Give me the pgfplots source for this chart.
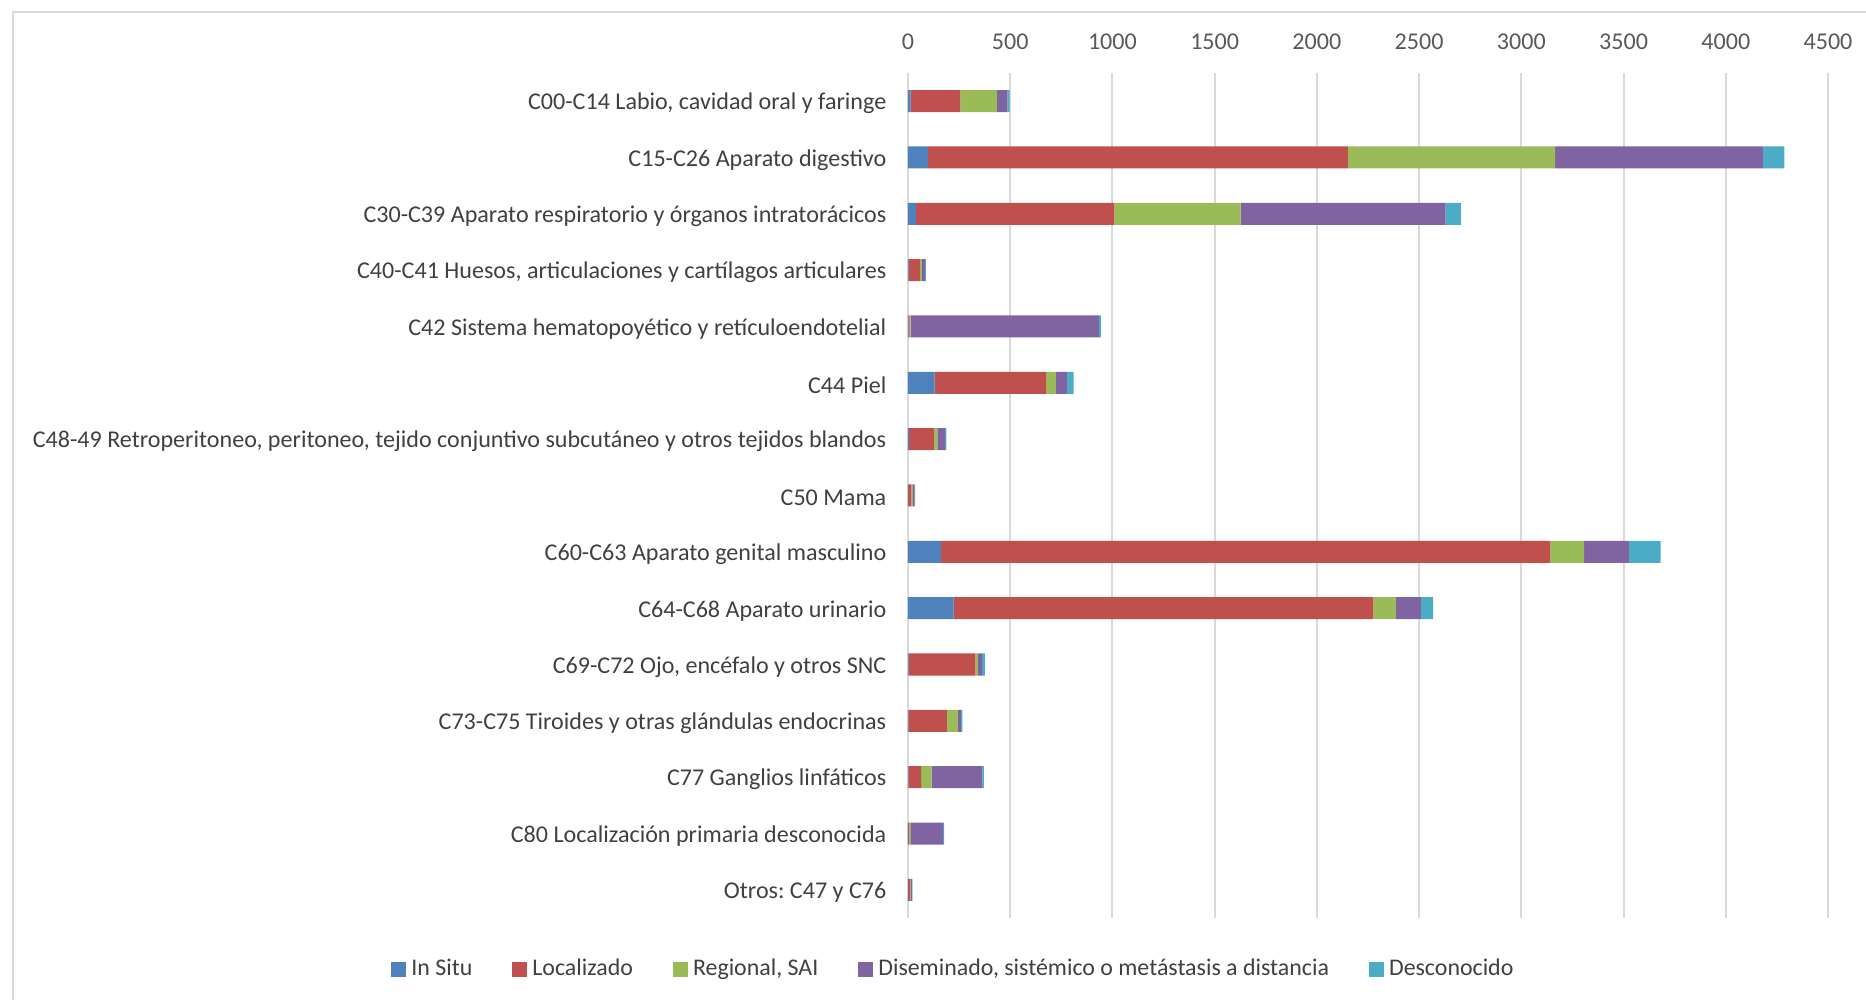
\documentclass[border=0pt]{standalone}
\usepackage{fontspec}
\setmainfont{Carlito}
\usepackage{pgfplots}
\usepackage{pgfplotstable}
\pgfplotsset{compat=1.18}
\definecolor{cinsitu}{HTML}{4F81BD}
\definecolor{cloc}{HTML}{C0504D}
\definecolor{creg}{HTML}{9BBB59}
\definecolor{cdis}{HTML}{8064A2}
\definecolor{cdesc}{HTML}{4BACC6}
\definecolor{cgrid}{HTML}{D9D9D9}
\definecolor{ctext}{HTML}{404040}
\definecolor{ctick}{HTML}{595959}

% idx, in situ, localizado, regional, diseminado, desconocido
\pgfplotstableread{
idx insitu loc reg dis desc
0  13  243  179   51  11
1  98  2054 1013 1016 105
2  39  970  618  1003  74
3  3   55   10   16    4
4  2   6    5    921  10
5  130 546  47   54   33
6  5   121  18   37    7
7  1   16   7    8     3
8  161 2981 165  219 155
9  223 2053 110  122  61
10 3   326  13   21   13
11 2   188  54   15    7
12 2   62   52   248   7
13 1   3    8    160   5
14 1   10   2    7     2
}\datatable

\begin{document}
\frenchspacing
\begin{tikzpicture}
\fontsize{6.85pt}{8pt}\selectfont
\path[use as bounding box] (-90.8mm,-8.2mm) rectangle (95.8mm,91.8mm);
\draw[cgrid, line width=0.2mm] (-89.5mm,-8.2mm) -- (-89.5mm,90.6mm) -- (95.8mm,90.6mm);
\begin{axis}[
    scale only axis,
    width=92mm, height=84.5mm,
    xbar stacked,
    bar width=2.2mm,
    xmin=0, xmax=4500,
    ymin=-0.5, ymax=14.5,
    y dir=reverse,
    xtick={0,500,...,4500},
    xticklabel pos=right,
    xmajorgrids,
    grid style={cgrid, line width=0.2mm},
    axis line style={draw=none},
    major tick length=0pt,
    ytick={0,...,14},
    yticklabels={
        {C00-C14 Labio, cavidad oral y faringe},
        {C15-C26 Aparato digestivo},
        {C30-C39 Aparato respiratorio y órganos intratorácicos},
        {C40-C41 Huesos, articulaciones y cartílagos articulares},
        {C42 Sistema hematopoyético y retículoendotelial},
        {C44 Piel},
        {C48-49 Retroperitoneo, peritoneo, tejido conjuntivo subcutáneo y otros tejidos blandos},
        {C50 Mama},
        {C60-C63 Aparato genital masculino},
        {C64-C68 Aparato urinario},
        {C69-C72 Ojo, encéfalo y otros SNC},
        {C73-C75 Tiroides y otras glándulas endocrinas},
        {C77 Ganglios linfáticos},
        {C80 Localización primaria desconocida},
        {Otros: C47 y C76}},
    yticklabel style={text=ctext, xshift=-1.3mm, yshift=-0.25mm},
    xticklabel style={text=ctick, yshift=1.45mm},
    /pgf/number format/assume math mode=true,
    /pgf/number format/1000 sep={},
    legend columns=5,
    legend style={draw=none, text=ctext, font=\fontsize{6.8pt}{8pt}\selectfont,
        at={(axis description cs:0.051,0)}, anchor=center, yshift=-5.1mm,
        /tikz/every even column/.append style={column sep=3.5mm},
        nodes={inner xsep=0.5mm}},
    legend image code/.code={\fill[#1] (0mm,-0.75mm) rectangle (1.5mm,0.75mm);},
]
\addplot[fill=cinsitu, draw=none] table[x=insitu, y=idx] {\datatable};
\addplot[fill=cloc, draw=none] table[x=loc, y=idx] {\datatable};
\addplot[fill=creg, draw=none] table[x=reg, y=idx] {\datatable};
\addplot[fill=cdis, draw=none] table[x=dis, y=idx] {\datatable};
\addplot[fill=cdesc, draw=none] table[x=desc, y=idx] {\datatable};
\legend{In Situ, Localizado, {Regional, SAI}, {Diseminado, sistémico o metástasis a distancia}, Desconocido}
\end{axis}
\end{tikzpicture}
\end{document}
